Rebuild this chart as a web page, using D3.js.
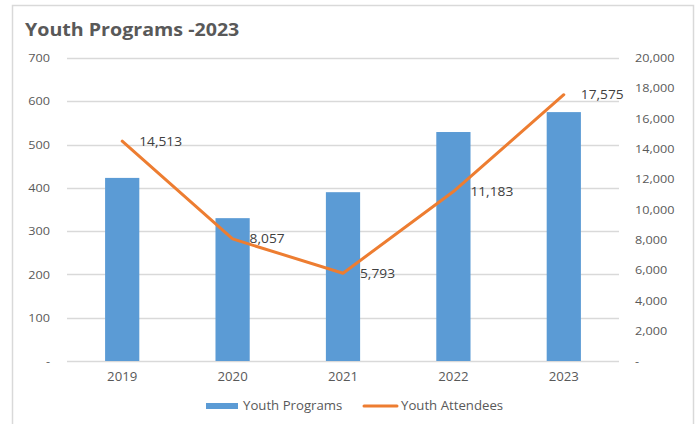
<!DOCTYPE html>
<html>
<head>
<meta charset="utf-8">
<script src="https://cdn.jsdelivr.net/npm/d3@7"></script>
<style>
  html, body { margin: 0; padding: 0; background: #fff; }
  svg { display: block; font-family: "Open Sans", "Noto Sans", sans-serif; }
</style>
</head>
<body>
<svg id="chart" width="697" height="424"></svg>
<script>
// Youth programs (bars, left axis) and attendees (line, right axis) by year
const years = ["2019", "2020", "2021", "2022", "2023"];
const programs = [423, 330, 390, 529, 575];
const attendees = [14513, 8057, 5793, 11183, 17575];
const leftTicks = [0, 100, 200, 300, 400, 500, 600, 700];
const rightTicks = [0, 2000, 4000, 6000, 8000, 10000, 12000, 14000, 16000, 18000, 20000];

const svg = d3.select("#chart");
const textColor = "#595959";
const gridColor = "#d9d9d9";

// chart frame
svg.append("path")
  .attr("d", "M12.5,424 V5.5 H693.5 V424")
  .attr("fill", "none")
  .attr("stroke", gridColor)
  .attr("stroke-width", 1.5);

svg.append("text")
  .attr("class", "wide")
  .attr("x", 25).attr("y", 36)
  .attr("font-size", 18).attr("font-weight", "bold")
  .attr("fill", textColor)
  .text("Youth Programs -2023");

const plot = { left: 67, right: 619, top: 58, bottom: 361 };

const x = d3.scaleBand().domain(years).range([plot.left, plot.right]).paddingInner(0.69).paddingOuter(0.345);
const yL = d3.scaleLinear().domain([0, 700]).range([plot.bottom, plot.top]);
const yR = d3.scaleLinear().domain([0, 20000]).range([plot.bottom, plot.top]);

// gridlines
svg.append("g")
  .selectAll("line").data(leftTicks).join("line")
  .attr("x1", plot.left).attr("x2", plot.right)
  .attr("y1", d => Math.round(yL(d)) + 0.5).attr("y2", d => Math.round(yL(d)) + 0.5)
  .attr("stroke", gridColor).attr("stroke-width", 1.3);

// left axis
const fmtL = d => d === 0 ? "-" : d3.format("d")(d);
const axL = svg.append("g").attr("transform", `translate(${plot.left},0)`)
  .call(d3.axisLeft(yL).tickValues(leftTicks).tickFormat(fmtL).tickSize(0).tickPadding(17));
axL.select(".domain").remove();
axL.selectAll("text").attr("fill", textColor).attr("font-size", 11.5).attr("font-family", "Open Sans");

// right axis
const fmtR = d => d === 0 ? "-" : d3.format(",")(d);
const axR = svg.append("g").attr("transform", `translate(${plot.right},0)`)
  .call(d3.axisRight(yR).tickValues(rightTicks).tickFormat(fmtR).tickSize(0).tickPadding(16));
axR.select(".domain").remove();
axR.selectAll("text").attr("fill", textColor).attr("font-size", 11.5).attr("font-family", "Open Sans");

// bottom axis labels
const axB = svg.append("g").attr("transform", `translate(0,${plot.bottom})`)
  .call(d3.axisBottom(x).tickSize(0).tickPadding(11));
axB.select(".domain").remove();
axB.selectAll("text").attr("fill", textColor).attr("font-size", 12).attr("font-family", "Open Sans");

// bars
svg.append("g")
  .selectAll("rect").data(years).join("rect")
  .attr("x", d => x(d))
  .attr("width", x.bandwidth())
  .attr("y", (d, i) => yL(programs[i]))
  .attr("height", (d, i) => yL(0) - yL(programs[i]))
  .attr("fill", "#5b9bd5");

// attendees line
const cx = d => x(d) + x.bandwidth() / 2;
const line = d3.line().x((d, i) => cx(years[i])).y(d => yR(d));
svg.append("path")
  .datum(attendees)
  .attr("d", line)
  .attr("fill", "none")
  .attr("stroke", "#ed7d31")
  .attr("stroke-width", 3)
  .attr("stroke-linejoin", "round")
  .attr("stroke-linecap", "round");

// value labels
svg.append("g")
  .selectAll("text").data(attendees).join("text")
  .attr("x", (d, i) => cx(years[i]) + 17)
  .attr("y", d => yR(d))
  .attr("dy", "0.35em")
  .attr("font-size", 12.5)
  .attr("fill", "#404040")
  .text(d => d3.format(",")(d));

// legend
const lg = svg.append("g").attr("font-size", 12).attr("fill", textColor);
lg.append("rect").attr("x", 206).attr("y", 403).attr("width", 32).attr("height", 6).attr("fill", "#5b9bd5");
lg.append("text").attr("x", 243).attr("y", 406).attr("dy", "0.35em").text("Youth Programs");
lg.append("line").attr("x1", 364).attr("x2", 397).attr("y1", 406).attr("y2", 406)
  .attr("stroke", "#ed7d31").attr("stroke-width", 3).attr("stroke-linecap", "round");
lg.append("text").attr("x", 401).attr("y", 406).attr("dy", "0.35em").text("Youth Attendees");

// the typeface is set slightly wide: stretch every label horizontally
svg.selectAll("text").each(function () {
  const k = this.classList.contains("wide") ? 1.09 : 1.1;
  const w = this.getComputedTextLength();
  d3.select(this).attr("textLength", w * k).attr("lengthAdjust", "spacingAndGlyphs");
});
</script>
</body>
</html>
